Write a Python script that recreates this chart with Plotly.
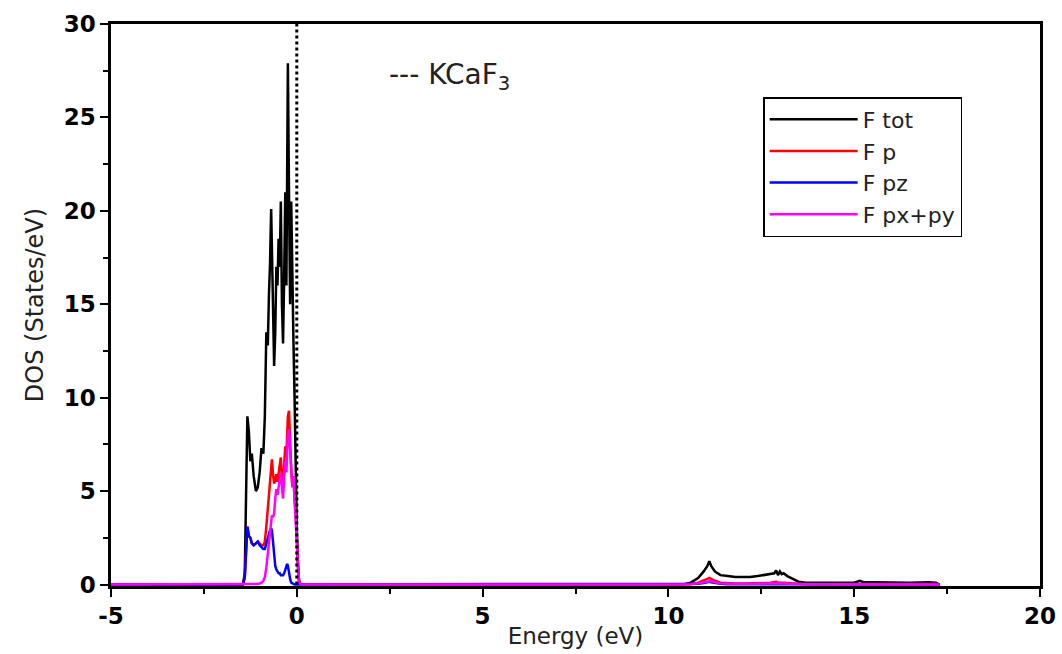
import plotly.graph_objects as go

# Energy grid (eV)
energy = [-5.0, -1.45, -1.40, -1.36, -1.33, -1.29, -1.25, -1.21, -1.16, -1.10, -1.05, -1.00,
          -0.95, -0.90, -0.86, -0.82, -0.78, -0.75, -0.72, -0.69, -0.67, -0.64, -0.61, -0.58,
          -0.55, -0.52, -0.49, -0.46, -0.43, -0.40, -0.37, -0.34, -0.31, -0.28, -0.26, -0.24,
          -0.21, -0.18, -0.15, -0.12, -0.09, -0.06, -0.03, 0.00, 0.03, 0.06, 0.10,
          10.4, 10.6, 10.8, 10.95, 11.05, 11.1, 11.15, 11.25, 11.4, 11.6, 11.8, 12.0, 12.2,
          12.4, 12.6, 12.75, 12.85, 12.9, 12.95, 13.0, 13.05, 13.1, 13.2, 13.35, 13.5, 13.7,
          14.0, 14.5, 15.0, 15.15, 15.25, 15.5, 16.0, 16.5, 17.0, 17.2, 17.3]

f_tot = [0, 0, 0.6, 5.0, 9.0, 8.2, 6.6, 7.0, 5.8, 5.0, 5.2, 6.0,
         7.3, 7.0, 9.0, 13.5, 12.8, 15.5, 17.2, 20.1, 18.0, 14.0, 11.7, 13.5,
         17.0, 16.0, 18.5, 17.0, 20.5, 15.0, 12.9, 16.5, 21.0, 16.0, 20.0, 27.9,
         21.0, 15.0, 20.5, 15.5, 13.0, 10.0, 6.0, 3.0, 1.0, 0.2, 0,
         0, 0.1, 0.35, 0.7, 1.0, 1.25, 1.0, 0.7, 0.5, 0.45, 0.4, 0.4, 0.4,
         0.45, 0.5, 0.55, 0.6, 0.75, 0.5, 0.7, 0.55, 0.6, 0.45, 0.3, 0.15, 0.1,
         0.1, 0.08, 0.1, 0.2, 0.12, 0.12, 0.1, 0.1, 0.12, 0.1, 0]

f_p = [0, 0, 0.4, 2.2, 3.1, 2.6, 2.5, 2.2, 2.1, 2.2, 2.3, 2.2,
       2.1, 2.1, 2.3, 3.1, 4.1, 5.1, 5.8, 6.4, 6.7, 5.9, 5.4, 5.6,
       5.9, 5.5, 5.9, 6.2, 6.8, 5.7, 5.1, 6.4, 7.4, 7.0, 8.3, 9.0,
       9.3, 7.3, 6.1, 5.3, 5.8, 4.5, 3.8, 2.5, 1.0, 0.2, 0,
       0, 0.02, 0.1, 0.2, 0.3, 0.35, 0.3, 0.2, 0.1, 0.06, 0.05, 0.05, 0.05,
       0.06, 0.08, 0.1, 0.12, 0.15, 0.1, 0.12, 0.1, 0.1, 0.08, 0.05, 0.03, 0.02,
       0.02, 0.02, 0.02, 0.04, 0.03, 0.03, 0.02, 0.02, 0.05, 0.03, 0]

f_pz = [0, 0, 0.4, 2.2, 3.1, 2.6, 2.5, 2.2, 2.1, 2.2, 2.3, 2.1,
        2.0, 1.9, 1.9, 2.2, 2.5, 2.8, 2.9, 3.0, 2.9, 2.3, 1.6, 1.0,
        0.8, 0.7, 0.6, 0.6, 0.5, 0.5, 0.5, 0.6, 0.8, 1.0, 1.1, 1.0,
        0.6, 0.3, 0.1, 0.05, 0, 0, 0, 0, 0, 0, 0,
        0, 0.01, 0.04, 0.08, 0.12, 0.15, 0.12, 0.08, 0.04, 0.02, 0.02, 0.02, 0.02,
        0.02, 0.03, 0.04, 0.05, 0.06, 0.04, 0.05, 0.04, 0.04, 0.03, 0.02, 0.01, 0.01,
        0.01, 0.01, 0.01, 0.01, 0.01, 0.01, 0.01, 0.01, 0.01, 0.01, 0]

f_pxpy = [0, 0, 0, 0, 0, 0, 0, 0, 0, 0.02, 0.03, 0.05,
          0.1, 0.2, 0.4, 0.9, 1.6, 2.3, 2.9, 3.4, 3.7, 3.6, 3.8, 4.6,
          5.1, 4.8, 5.3, 5.6, 6.0, 5.2, 4.6, 5.8, 6.6, 6.0, 7.2, 8.0,
          8.3, 7.0, 6.0, 5.2, 5.8, 4.5, 3.8, 2.5, 1.0, 0.2, 0,
          0, 0.01, 0.06, 0.12, 0.18, 0.2, 0.18, 0.12, 0.06, 0.04, 0.03, 0.03, 0.03,
          0.04, 0.05, 0.06, 0.07, 0.09, 0.06, 0.07, 0.06, 0.06, 0.05, 0.03, 0.02, 0.01,
          0.01, 0.01, 0.01, 0.03, 0.02, 0.02, 0.01, 0.01, 0.04, 0.02, 0]

series_names = ["F tot", "F p", "F pz", "F px+py"]
series_colors = ["#000000", "#ff0000", "#0000ff", "#ff00ff"]
series_values = [f_tot, f_p, f_pz, f_pxpy]

x_ticks = [-5, 0, 5, 10, 15, 20]
y_ticks = [0, 5, 10, 15, 20, 25, 30]

FONT = "DejaVu Sans, Liberation Sans, Arial"

fig = go.Figure()
for name, color, vals in zip(series_names, series_colors, series_values):
    fig.add_trace(go.Scatter(x=energy, y=vals, mode="lines", name=name,
                             line=dict(color=color, width=2.5)))

fig.add_shape(type="line", x0=0, x1=0, y0=0, y1=30, xref="x", yref="y",
              line=dict(color="black", width=3, dash="dot"), layer="above")

fig.add_annotation(x=4.1, y=27.2, xref="x", yref="y", text="--- KCaF<sub>3</sub>",
                   showarrow=False, font=dict(family=FONT, size=28, color="#222"))

axis_common = dict(showline=True, linecolor="black", linewidth=2.5, mirror=True,
                   ticks="outside", ticklen=8, tickwidth=2, tickcolor="black",
                   showgrid=False, zeroline=False, automargin=False,
                   tickfont=dict(family=FONT, size=23, color="black", weight="bold"))

fig.update_xaxes(range=[-5, 20], tickvals=x_ticks, ticktext=[str(v) for v in x_ticks],
                 minor=dict(dtick=2.5, tick0=0, ticks="outside", ticklen=5, tickwidth=2, tickcolor="black"),
                 title=dict(text="Energy (eV)", standoff=0,
                            font=dict(family=FONT, size=23, color="#222")),
                 **axis_common)
fig.update_yaxes(range=[-0.08, 30], tickvals=y_ticks, ticktext=[str(v) for v in y_ticks],
                 minor=dict(dtick=2.5, tick0=0, ticks="outside", ticklen=5, tickwidth=2, tickcolor="black"),
                 title=dict(text="DOS (States/eV)", standoff=14,
                            font=dict(family=FONT, size=24, color="#222")),
                 **axis_common)

fig.update_layout(
    width=1062, height=654,
    margin=dict(l=111, r=22, t=24, b=68),
    plot_bgcolor="white", paper_bgcolor="white",
    legend=dict(x=0.702, y=0.870, xanchor="left", yanchor="top",
                bordercolor="black", borderwidth=1.5, bgcolor="white",
                itemwidth=88, tracegroupgap=0,
                font=dict(family=FONT, size=22, color="#222")),
    showlegend=True,
)

fig.write_html("out.html")
